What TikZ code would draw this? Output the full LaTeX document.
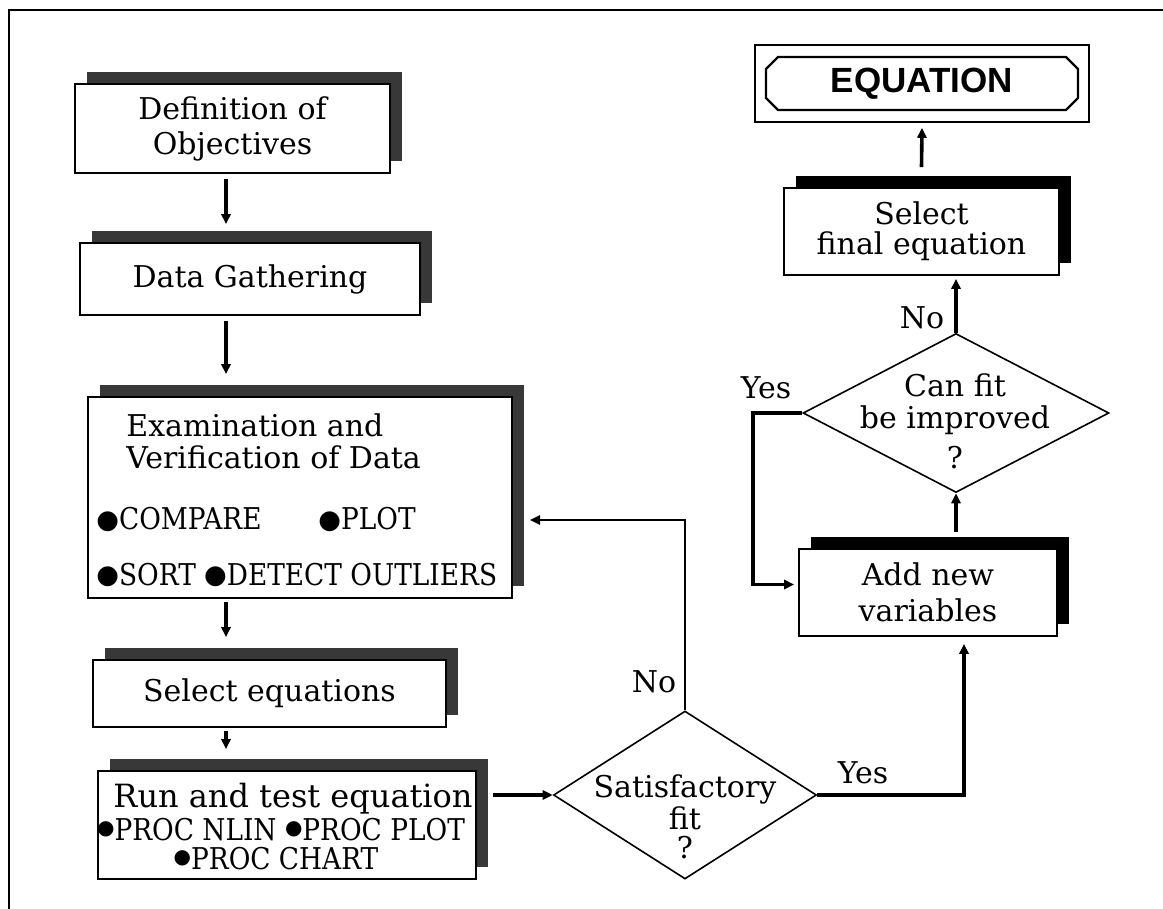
\documentclass[tikz,border=0pt]{standalone}
\usepackage{fontspec}
\setmainfont{DejaVu Serif}
\newfontfamily\narrowserif[FakeStretch=0.88]{DejaVu Serif}
\newfontfamily\dotfont{DejaVu Sans}
\newfontfamily\headfont{Liberation Sans}
\usetikzlibrary{arrows.meta,shadows,shapes.geometric,calc}
% bullets: large ones for the data checks, small ones for the SAS procedures
\newcommand{\bigbul}{\raisebox{0.8pt}{\dotfont\fontsize{13pt}{13pt}\selectfont ●}}
\newcommand{\smallbul}{\raisebox{2.6pt}{\dotfont\fontsize{10pt}{10pt}\selectfont ●}}
\begin{document}
\begin{tikzpicture}[x=0.5pt,y=-0.5pt,
  font=\fontsize{15pt}{16pt}\selectfont,
  >={Triangle[length=5pt,width=4.6pt]},
  boxbase/.style={draw, line width=0.9pt, fill=white, inner sep=0pt, align=center},
  greybox/.style={boxbase, drop shadow={shadow xshift=6pt, shadow yshift=6pt, fill=black!78, opacity=1}},
  blackbox/.style={boxbase, drop shadow={shadow xshift=6pt, shadow yshift=6pt, fill=black, opacity=1}},
  test/.style={diamond, draw, line width=0.8pt, inner sep=0pt},
  flow/.style={line width=1.8pt, ->},
  thinflow/.style={line width=1pt, ->},
  lbl/.style={inner sep=0pt},
  caps/.style={lbl, font=\narrowserif\fontsize{15pt}{16pt}\selectfont}]
\useasboundingbox (0,0) rectangle (1163,909);

% frame
\draw[line width=1pt] (9,909) -- (9,10) -- (1163,10);

% left column of steps
\node[greybox, minimum width=157.5pt, minimum height=44.5pt,
      font=\fontsize{15pt}{17.5pt}\selectfont] (def) at (232.5,128.5) {Definition of\\Objectives};
\node[greybox, minimum width=170pt, minimum height=36pt] (data) at (250,279) {Data Gathering};
\node[greybox, minimum width=212pt, minimum height=100.5pt] (exam) at (300,497.5) {};
\node[lbl, anchor=base west] (ex1) at (126,437) {Examination and};
\node[lbl, anchor=base west] (ex2) at (126,468) {Verification of Data};
\node[caps, anchor=base west] (ex3) at (96,530) {\bigbul COMPARE};
\node[caps, anchor=base west] (ex4) at (318,530) {\bigbul PLOT};
\node[caps, anchor=base west] (ex5) at (96,585) {\bigbul SORT \bigbul DETECT OUTLIERS};
\node[greybox, minimum width=176.5pt, minimum height=33.5pt] (seleq) at (269.5,693.5) {Select equations};
\node[greybox, minimum width=189pt, minimum height=54pt] (run) at (287,825) {};
\node[lbl, anchor=base, font=\fontsize{16pt}{16pt}\selectfont] (run1) at (293,807) {Run and test equation};
\node[caps, anchor=base] (run2) at (281,840) {\smallbul PROC NLIN \smallbul PROC PLOT};
\node[caps, anchor=base] (run3) at (276,869) {\smallbul PROC CHART};

% decisions
\node[test, minimum width=131.5pt, minimum height=84pt] (sat) at (685,795) {};
\node[lbl, align=center, font=\fontsize{15pt}{14.5pt}\selectfont] (sattxt) at (685,817) {Satisfactory\\fit\\?};
\node[test, minimum width=153pt, minimum height=79.5pt] (canfit) at (956,413) {};
\node[lbl, align=center] (cantxt) at (955,421) {Can fit\\be improved\\[4pt]?};

% right column
\node[blackbox, minimum width=129pt, minimum height=43.5pt,
      font=\fontsize{15pt}{18pt}\selectfont] (addvar) at (928,592.5) {Add new\\variables};
\node[blackbox, minimum width=137.5pt, minimum height=43.5pt,
      font=\fontsize{15pt}{15pt}\selectfont] (final) at (921.5,231.5) {Select\\final equation};

% result: framed, chamfered plate
\node[draw, line width=0.8pt, minimum width=167pt, minimum height=38.5pt, inner sep=0pt,
      font=\headfont\bfseries\fontsize{17.5pt}{18pt}\selectfont] (eq) at (922,83.5) {EQUATION};
\draw[line width=1.2pt, shift={(eq.center)}]
  (-144,-26.5) -- (144,-26.5) -- (156,-14.5) -- (156,14.5) -- (144,26.5)
  -- (-144,26.5) -- (-156,14.5) -- (-156,-14.5) -- cycle;

% branch labels
\node[lbl] (no1) at (654,682) {No};
\node[lbl] (yes1) at (863,773) {Yes};
\node[lbl] (yes2) at (766,388) {Yes};
\node[lbl] (no2) at (922,318) {No};

% connectors
\coordinate (spine) at (226,0);
\coordinate (backin) at (530,520);
\draw[flow] ($(def.south -| spine)+(0,5)$) -- ($(data.north -| spine)+(0,-18)$);
\draw[flow] ($(data.south -| spine)+(0,5)$) -- ($(exam.north -| spine)+(0,-22)$);
\draw[flow] ($(exam.south -| spine)+(0,3)$) -- ($(seleq.north -| spine)+(0,-22)$);
\draw[flow] ($(seleq.south -| spine)+(0,3)$) -- ($(run.north -| spine)+(0,-21)$);
\draw[flow] ($(run.east)+(16,-30)$) -- (sat.west);
\draw[thinflow] (sat.north) |- (backin);
\draw[flow] (sat.east) -| ($(addvar.south)+(36,7)$);
\draw[flow] ($(canfit.south |- addvar.north)+(0,-16)$) -- (canfit.south);
\draw[flow] (canfit.west) -- ++(-49,0) |- ($(addvar.west)+(-4,-8)$);
\draw[flow] (canfit.north) -- ($(canfit.north |- final.south)+(0,3)$);
\draw[flow] ($(final.north)+(0,-20)$) -- ($(eq.south)+(0,5)$);
\end{tikzpicture}
\end{document}
